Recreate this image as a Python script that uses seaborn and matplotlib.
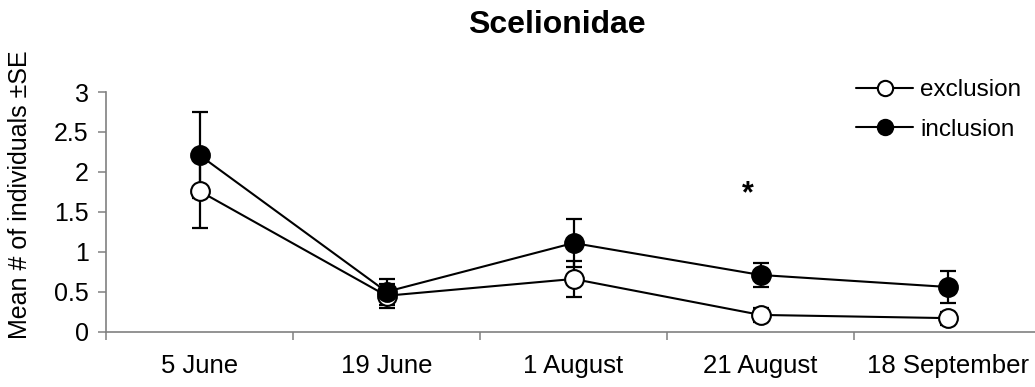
import matplotlib
matplotlib.use("Agg")
import matplotlib.pyplot as plt
import seaborn as sns
import numpy as np

categories = ["5 June", "19 June", "1 August", "21 August", "18 September"]
exclusion = [1.76, 0.45, 0.66, 0.21, 0.17]
exclusion_se = [0.46, 0.15, 0.22, 0.09, 0.08]
inclusion = [2.21, 0.50, 1.11, 0.71, 0.56]
inclusion_se = [0.54, 0.16, 0.30, 0.15, 0.20]
title = "Scelionidae"
ylabel = "Mean # of individuals \u00b1SE"
yticks = [0, 0.5, 1, 1.5, 2, 2.5, 3]
ytick_labels = ["0", "0.5", "1", "1.5", "2", "2.5", "3"]

sns.set_theme(style="white")
plt.rcParams["font.family"] = ["Liberation Sans", "DejaVu Sans"]
plt.rcParams["text.color"] = "black"
plt.rcParams["axes.labelcolor"] = "black"
plt.rcParams["xtick.labelcolor"] = "black"
plt.rcParams["ytick.labelcolor"] = "black"

W, H = 1035, 387
fig = plt.figure(figsize=(W / 100, H / 100), dpi=100)
ax = fig.add_axes([106 / W, (H - 331.7) / H, 935 / W, (331.7 - 92) / H])

x = np.arange(len(categories))
grey = "#808080"

# error bars beneath markers
ax.errorbar(x, exclusion, yerr=exclusion_se, fmt="none", ecolor="black",
            elinewidth=1.6, capsize=5.5, capthick=1.6, zorder=2)
ax.errorbar(x, inclusion, yerr=inclusion_se, fmt="none", ecolor="black",
            elinewidth=1.6, capsize=5.5, capthick=1.6, zorder=2)

sns.lineplot(x=x, y=exclusion, ax=ax, color="black", linewidth=1.5,
             marker="o", markersize=13.5, markerfacecolor="white",
             markeredgecolor="black", markeredgewidth=1.5,
             label="exclusion", zorder=3)
sns.lineplot(x=x, y=inclusion, ax=ax, color="black", linewidth=1.5,
             marker="o", markersize=13.5, markerfacecolor="black",
             markeredgecolor="black", markeredgewidth=1.5,
             label="inclusion", zorder=4)

for ln in ax.lines:
    ln.set_clip_on(False)

ax.set_xlim(-0.5, len(categories) - 0.5)
ax.set_ylim(0, 3)
ax.set_yticks(yticks)
ax.set_yticklabels(ytick_labels, fontsize=18)

ax.set_xticks(np.arange(len(categories) + 1) - 0.5)
ax.set_xticklabels([])
ax.set_xticks(x, minor=True)
ax.set_xticklabels(categories, minor=True, fontsize=18.5)
ax.tick_params(axis="x", which="major", direction="out", length=5.5,
               width=1.1, color=grey, bottom=True)
ax.tick_params(axis="x", which="minor", length=0, pad=16, bottom=True)
ax.tick_params(axis="y", direction="out", length=5.5, width=1.1,
               color=grey, left=True, pad=7)

for s in ["top", "right"]:
    ax.spines[s].set_visible(False)
for s in ["left", "bottom"]:
    ax.spines[s].set_color(grey)
    ax.spines[s].set_linewidth(1.2)

ax.set_ylabel(ylabel, fontsize=18, rotation=90, va="center", ha="center")
ax.yaxis.set_label_coords(-86 / 935, (331.7 - 195) / (331.7 - 92))
ax.set_xlabel("")

fig.text(557 / W, 1 - 25 / H, title, fontsize=23, fontweight="bold",
         ha="center", va="center")

ax.text(2.93, 1.72, "*", fontsize=22, fontweight="bold",
        ha="center", va="center")

leg = ax.legend(loc="upper left", bbox_to_anchor=(856 / W, 1 - 79 / H),
                bbox_transform=fig.transFigure, frameon=False, fontsize=17.5,
                handlelength=2.35, handletextpad=0.3, labelspacing=0.72,
                borderpad=0, borderaxespad=0)
for h in leg.legend_handles:
    h.set_markersize(11)

fig.savefig("out.png", dpi=100)
